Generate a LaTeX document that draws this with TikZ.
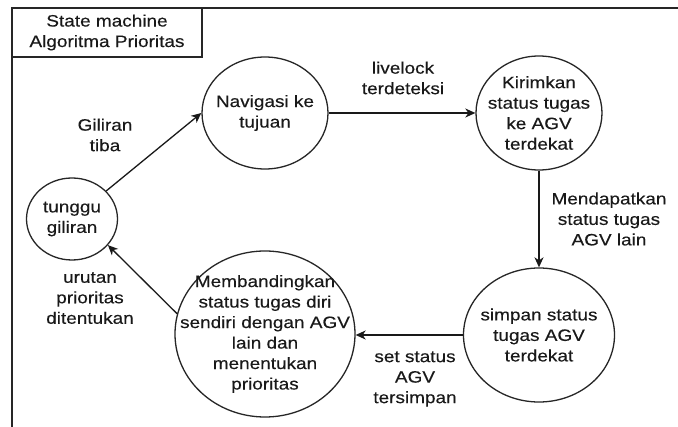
\documentclass[tikz,border=0pt]{standalone}
\usepackage{fontspec}
\setmainfont{Liberation Sans}[FakeStretch=1.15,FakeBold=0.3]
\usetikzlibrary{shapes.geometric,arrows.meta}
\begin{document}
\begin{tikzpicture}[x=1pt,y=-1pt,
  every node/.style={font=\fontsize{16.5pt}{20.5pt}\selectfont, text=black!90},
  state/.style={draw=black!85, line width=1.3pt, ellipse, inner sep=0pt},
  statetext/.style={align=center, inner sep=0pt},
  lbl/.style={align=center, inner sep=0pt},
  arr/.style={draw=black!90, line width=1.3pt, -{Stealth[length=10pt,width=9pt,inset=3pt]}}
]
\useasboundingbox (0,0) rectangle (678,427);
\fill[white] (0,0) rectangle (678,427);
% frame
\draw[line width=1.5pt, black!85] (12,430) -- (12,8) -- (680,8);
\node[draw=black!85, line width=1.3pt, minimum width=190pt, minimum height=49pt, align=center, inner sep=0pt] (title) at (107,32.5) {State machine\\Algoritma Prioritas};

% states
\node[state, minimum width=126pt, minimum height=112pt,
  label={[statetext]center:Navigasi ke\\tujuan}] (nav) at (265,113) {};
\node[state, minimum width=126pt, minimum height=114pt,
  label={[statetext]center:Kirimkan\\status tugas\\ke AGV\\terdekat}] (kirim) at (539,113) {};
\node[state, minimum width=151pt, minimum height=134pt,
  label={[statetext]center:simpan status\\tugas AGV\\terdekat}] (simpan) at (539,335) {};
\node[state, minimum width=180pt, minimum height=166pt,
  label={[statetext]center:Membandingkan\\status tugas diri\\sendiri dengan AGV\\lain dan\\menentukan\\prioritas}] (memb) at (265,334) {};
\node[state, minimum width=91pt, minimum height=82pt,
  label={[statetext]center:tunggu\\giliran}] (tunggu) at (72,219) {};

% transitions
\draw[arr] (tunggu) -- (nav.west);
\draw[arr] (nav.east) -- (kirim.west);
\draw[arr] (kirim.south) -- (simpan.north);
\draw[arr] (simpan.west) -- (simpan.west -| memb.east);
\draw[arr] (memb.167) -- (tunggu.-36);

% labels
\node[lbl] (l1) at (105,135) {Giliran\\tiba};
\node[lbl] (l2) at (403,78) {livelock\\terdeteksi};
\node[lbl] (l3) at (609,219) {Mendapatkan\\status tugas\\AGV lain};
\node[lbl] (l4) at (415,379) {set status\\AGV\\tersimpan};
\node[lbl] (l5) at (90,298) {urutan\\prioritas\\ditentukan};
\end{tikzpicture}
\end{document}
